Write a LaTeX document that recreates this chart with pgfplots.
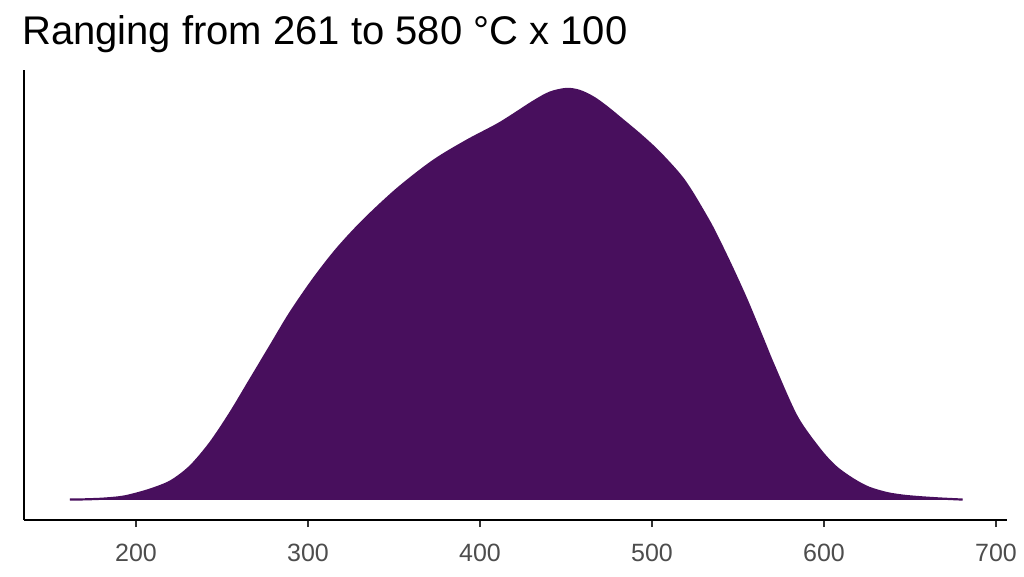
\documentclass[border=0pt]{standalone}
\usepackage{pgfplots}
\pgfplotsset{compat=1.18}
\usepackage{pgfplotstable}
\usepackage{fontspec}
\setmainfont{Liberation Sans}
\definecolor{densfill}{HTML}{480F5D}
\definecolor{tickgray}{HTML}{333333}
\definecolor{labelgray}{HTML}{4D4D4D}

% density estimate, peak scaled to 1
\pgfplotstableread{
x y
161.6 0.001
170 0.0015
180 0.003
190 0.0065
196.5 0.0115
208 0.025
220 0.045
231.4 0.081
243 0.138
254.7 0.211
266.3 0.292
277.9 0.373
289.5 0.454
303.1 0.537
316.7 0.610
332.2 0.680
352 0.757
372.9 0.825
392.3 0.874
411.6 0.917
431.0 0.969
440.7 0.991
450.4 1.000
458 0.995
466 0.979
474 0.955
483.3 0.923
493.0 0.889
502.7 0.852
512.4 0.809
518 0.781
523 0.750
529 0.708
535.6 0.659
545.3 0.576
555.0 0.487
564.7 0.389
570.5 0.330
584.1 0.203
597.7 0.122
607 0.080
617.0 0.050
626 0.030
636.4 0.017
646 0.0105
655.8 0.0068
668 0.0035
680.6 0.001
}\dens

\begin{document}
\begin{tikzpicture}
\path (0pt,0pt) rectangle (1024pt,576pt);
\begin{axis}[
    at={(24pt,56pt)}, anchor=south west,
    scale only axis, width=982.7pt, height=450pt,
    xmin=134.9, xmax=706.2, ymin=-0.0487, ymax=1.046,
    axis x line*=bottom, axis y line*=left,
    axis line style={-, black, line width=2.6pt},
    ytick=\empty,
    xtick={200,300,400,500,600,700},
    tick align=outside,
    major tick length=7pt,
    every tick/.style={tickgray, line width=2.6pt},
    /pgf/number format/assume math mode=true,
    xticklabel style={font=\fontsize{25}{30}\selectfont, text=labelgray, anchor=base, yshift=-34.3pt},
  ]
  \addplot[fill=densfill, draw=none, smooth] table[x=x, y=y] {\dens} \closedcycle;
  \addplot[densfill, line width=2.2pt, smooth, line join=round] table[x=x, y=y] {\dens};
\end{axis}
\node[anchor=base west, inner sep=0pt, font=\fontsize{40}{46}\selectfont] at (22pt,531pt) {Ranging from 261 to 580 °C x 100};
\end{tikzpicture}
\end{document}
